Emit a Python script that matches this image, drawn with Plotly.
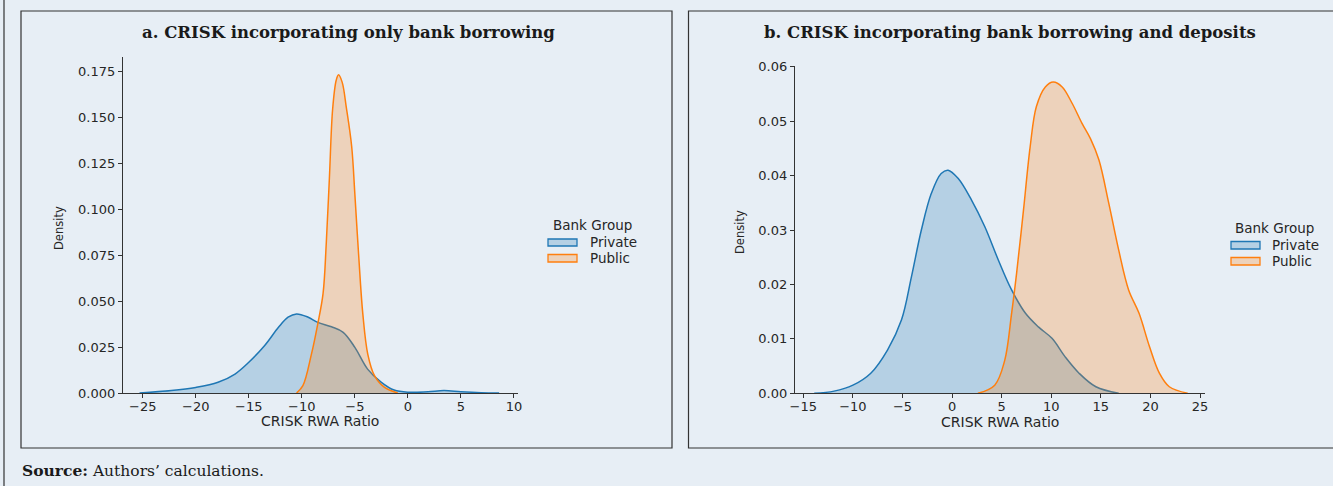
import plotly.graph_objects as go

# ---------------- data ----------------
# Panel a: CRISK incorporating only bank borrowing
a_private_x = [-25.3, -22.3, -20.0, -17.9, -16.3, -15.0, -13.5, -12.2, -11.3, -10.5, -9.4, -8.5,
               -7.2, -6.1, -5.0, -3.8, -2.5, -1.3, 0.0, 1.9, 3.4, 5.0, 6.9, 8.6]
a_private_y = [0.0, 0.0013, 0.003, 0.0058, 0.0103, 0.0167, 0.0258, 0.0357, 0.0412, 0.043, 0.0412, 0.0384,
               0.036, 0.033, 0.0248, 0.013, 0.0058, 0.0016, 0.0004, 0.0007, 0.0013, 0.0007, 0.0002, 0.0]
a_public_x = [-10.5, -9.9, -9.1, -8.5, -8.0, -7.7, -7.4, -7.1, -6.76, -6.54, -6.2, -5.8, -5.3, -5.0,
              -4.65, -4.25, -3.78, -3.15, -2.2, -0.96]
a_public_y = [0.0, 0.004, 0.021, 0.0375, 0.054, 0.081, 0.117, 0.154, 0.170, 0.173, 0.169, 0.155, 0.134, 0.108,
              0.0756, 0.043, 0.021, 0.0094, 0.003, 0.0]

# Panel b: CRISK incorporating bank borrowing and deposits
b_private_x = [-13.9, -11.9, -10.0, -8.2, -6.5, -5.1, -4.1, -3.1, -2.1, -1.1, -0.4, 0.6, 1.96, 3.3, 4.66,
               6.0, 7.4, 8.7, 10.07, 11.4, 12.8, 14.5, 16.8]
b_private_y = [0.0, 0.0004, 0.0015, 0.0037, 0.008, 0.0135, 0.0214, 0.030, 0.0367, 0.0404, 0.041, 0.0395,
               0.0355, 0.0306, 0.0245, 0.019, 0.0147, 0.0122, 0.0101, 0.0067, 0.0037, 0.0012, 0.0]
b_public_x = [2.6, 4.3, 5.3, 6.0, 6.5, 7.2, 7.87, 8.5, 9.4, 10.2, 11.1, 12.1, 13.1, 13.95, 14.8, 15.8,
              16.8, 17.8, 18.85, 19.9, 20.9, 21.9, 23.75]
b_public_y = [0.0, 0.0015, 0.006, 0.0147, 0.022, 0.0337, 0.0453, 0.0527, 0.0563, 0.0572, 0.0563, 0.0533,
              0.0496, 0.0468, 0.0429, 0.0349, 0.0263, 0.019, 0.0147, 0.0086, 0.0037, 0.0012, 0.0]

groups = ["Private", "Public"]
legend_title = "Bank Group"

a_xticks = [-25, -20, -15, -10, -5, 0, 5, 10]
a_xticklabels = ["\u221225", "\u221220", "\u221215", "\u221210", "\u22125", "0", "5", "10"]
a_yticks = [0.0, 0.025, 0.05, 0.075, 0.1, 0.125, 0.15, 0.175]
a_yticklabels = ["0.000", "0.025", "0.050", "0.075", "0.100", "0.125", "0.150", "0.175"]

b_xticks = [-15, -10, -5, 0, 5, 10, 15, 20, 25]
b_xticklabels = ["\u221215", "\u221210", "\u22125", "0", "5", "10", "15", "20", "25"]
b_yticks = [0.0, 0.01, 0.02, 0.03, 0.04, 0.05, 0.06]
b_yticklabels = ["0.00", "0.01", "0.02", "0.03", "0.04", "0.05", "0.06"]

title_a = "a. CRISK incorporating only bank borrowing"
title_b = "b. CRISK incorporating bank borrowing and deposits"
x_title = "CRISK RWA Ratio"
y_title = "Density"

# ---------------- styling ----------------
W, H = 1333, 486
BG = "#e7eef5"
BLUE = "#1f77b4"
ORANGE = "#ff7f0e"
FILLS = {"Private": "rgba(31,119,180,0.25)", "Public": "rgba(255,127,14,0.25)"}
LINES = {"Private": BLUE, "Public": ORANGE}
AX = "#333333"
TXT = "#262626"
SANS = "DejaVu Sans, Noto Sans, sans-serif"
SERIF = "DejaVu Serif, Liberation Serif, serif"


def fx(px):
    return px / W


def fy(py):
    return 1 - py / H


fig = go.Figure()

panels = [
    dict(xa="x", ya="y", data={"Private": (a_private_x, a_private_y), "Public": (a_public_x, a_public_y)}),
    dict(xa="x2", ya="y2", data={"Private": (b_private_x, b_private_y), "Public": (b_public_x, b_public_y)}),
]
for p in panels:
    for g in groups:
        xs, ys = p["data"][g]
        fig.add_trace(go.Scatter(
            x=xs, y=ys, xaxis=p["xa"], yaxis=p["ya"], mode="lines",
            line=dict(color=LINES[g], width=1.5, shape="spline", smoothing=1.0),
            fill="tozeroy", fillcolor=FILLS[g], showlegend=False, hoverinfo="skip"))

axis_common = dict(showline=True, linecolor=AX, linewidth=1.2, ticks="outside", ticklen=4, tickwidth=1.1,
                   tickcolor=AX, showgrid=False, zeroline=False, tickfont=dict(family=SANS, size=13, color=TXT),
                   automargin=False, fixedrange=True)

fig.update_layout(
    width=W, height=H, margin=dict(l=0, r=0, t=0, b=0),
    paper_bgcolor=BG, plot_bgcolor=BG, showlegend=False,
    xaxis=dict(domain=[fx(123), fx(518)], range=[-26.86, 10.38], tickmode="array",
               tickvals=a_xticks, ticktext=a_xticklabels, anchor="y", ticklabelstandoff=-3, **axis_common),
    yaxis=dict(domain=[fy(393), fy(57.3)], range=[0, 0.1825], tickmode="array",
               tickvals=a_yticks, ticktext=a_yticklabels, anchor="x", **axis_common),
    xaxis2=dict(domain=[fx(795), fx(1205)], range=[-15.84, 25.5], tickmode="array",
                tickvals=b_xticks, ticktext=b_xticklabels, anchor="y2", ticklabelstandoff=-3, **axis_common),
    yaxis2=dict(domain=[fy(393.3), fy(65.7)], range=[0, 0.0602], tickmode="array",
                tickvals=b_yticks, ticktext=b_yticklabels, anchor="x2", **axis_common),
)

shapes = []
annotations = []

# panel frames and outer border
shapes.append(dict(type="rect", xref="paper", yref="paper", x0=fx(21), x1=fx(672), y0=fy(448), y1=fy(11),
                   line=dict(color=AX, width=1.2), fillcolor="rgba(0,0,0,0)"))
shapes.append(dict(type="rect", xref="paper", yref="paper", x0=fx(688.5), x1=fx(1345), y0=fy(448), y1=fy(11),
                   line=dict(color=AX, width=1.2), fillcolor="rgba(0,0,0,0)"))
shapes.append(dict(type="line", xref="paper", yref="paper", x0=fx(4), x1=fx(4), y0=0, y1=1,
                   line=dict(color=AX, width=1.2)))

# titles
annotations.append(dict(text="<b>" + title_a + "</b>", x=fx(348), y=fy(33), xref="paper", yref="paper",
                        showarrow=False, xanchor="center", yanchor="middle",
                        font=dict(family=SERIF, size=16.5, color="#1a1a1a")))
annotations.append(dict(text="<b>" + title_b + "</b>", x=fx(1010), y=fy(33), xref="paper", yref="paper",
                        showarrow=False, xanchor="center", yanchor="middle",
                        font=dict(family=SERIF, size=16.5, color="#1a1a1a")))

# axis titles
for cx, cy in [(320, 421), (1000, 422)]:
    annotations.append(dict(text=x_title, x=fx(cx), y=fy(cy), xref="paper", yref="paper", showarrow=False,
                            xanchor="center", yanchor="middle", font=dict(family=SANS, size=14, color=TXT)))
for cx, cy in [(59, 228), (740, 232)]:
    annotations.append(dict(text=y_title, x=fx(cx), y=fy(cy), xref="paper", yref="paper", showarrow=False,
                            xanchor="center", yanchor="middle", textangle=-90,
                            font=dict(family=SANS, size=11.5, color=TXT)))

# manual legends
legends = [
    dict(title_c=(592, 225), box_x=(548, 577), rows=[(239, 246, 242), (254.5, 262, 258)], text_x=588),
    dict(title_c=(1274, 228.5), box_x=(1231, 1260), rows=[(241.5, 249, 245), (257.5, 265, 261)], text_x=1270),
]
for lg in legends:
    annotations.append(dict(text=legend_title, x=fx(lg["title_c"][0]), y=fy(lg["title_c"][1]), xref="paper",
                            yref="paper", showarrow=False, xanchor="center", yanchor="middle",
                            font=dict(family=SANS, size=13.5, color=TXT)))
    for g, (y0, y1, ty) in zip(groups, lg["rows"]):
        shapes.append(dict(type="rect", xref="paper", yref="paper", x0=fx(lg["box_x"][0]), x1=fx(lg["box_x"][1]),
                           y0=fy(y1), y1=fy(y0), line=dict(color=LINES[g], width=1.3), fillcolor=FILLS[g]))
        annotations.append(dict(text=g, x=fx(lg["text_x"]), y=fy(ty), xref="paper", yref="paper",
                                showarrow=False, xanchor="left", yanchor="middle",
                                font=dict(family=SANS, size=13.5, color=TXT)))

# source note
annotations.append(dict(text="<b>Source:</b> Authors\u2019 calculations.", x=fx(20), y=fy(470), xref="paper",
                        yref="paper", showarrow=False, xanchor="left", yanchor="middle",
                        font=dict(family=SERIF, size=15.5, color="#1a1a1a")))

fig.update_layout(shapes=shapes, annotations=annotations)
fig.write_html("out.html", config={"displayModeBar": False},
               post_script="document.body.style.margin='0';document.body.style.background='" + BG + "';")
